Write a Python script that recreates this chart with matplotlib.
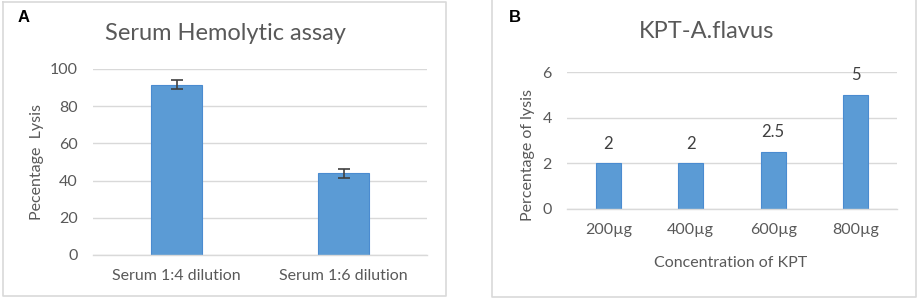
import matplotlib
matplotlib.use('Agg')
import matplotlib.pyplot as plt
from matplotlib.lines import Line2D

# panel A data
serum_labels = ['Serum 1:4 dilution', 'Serum 1:6 dilution']
serum_lysis = [91.5, 44]
serum_err = [2.5, 2.5]

# panel B data
kpt_labels = ['200µg', '400µg', '600µg', '800µg']
kpt_lysis = [2, 2, 2.5, 5]
kpt_text = ['2', '2', '2.5', '5']

W, H = 920, 301
blue = '#5B9BD5'
grid = '#D9D9D9'
txt = '#595959'

plt.rcParams['font.family'] = ['Lato', 'DejaVu Sans']

fig = plt.figure(figsize=(W / 100, H / 100), dpi=100)


def fx(px):
    return px / W


def fy(py):
    return 1 - py / H


def style(ax):
    for s in ['top', 'right', 'left']:
        ax.spines[s].set_visible(False)
    ax.spines['bottom'].set_color(grid)
    ax.spines['bottom'].set_linewidth(1)
    ax.yaxis.grid(True, color=grid, linewidth=1)
    ax.set_axisbelow(True)
    ax.tick_params(length=0, colors=txt, labelsize=11.5)


# panel frames
fig.add_artist(Line2D([fx(3), fx(446), fx(446), fx(3), fx(3)],
                      [fy(2), fy(2), fy(296), fy(296), fy(2)],
                      color='#D9D9D9', lw=1.2))
fig.add_artist(Line2D([fx(492), fx(492), fx(916), fx(916)],
                      [fy(-2), fy(297), fy(297), fy(-2)],
                      color='#D9D9D9', lw=1.2))

# ---- panel A ----
axA = fig.add_axes([fx(93), fy(255), fx(334), 186 / H])
style(axA)
xa = range(len(serum_labels))
axA.bar(xa, serum_lysis, width=0.31, color=blue, edgecolor='#4A8BD0', linewidth=0.8)
axA.errorbar(xa, serum_lysis, yerr=serum_err, fmt='none', ecolor='#404040',
             elinewidth=1.2, capsize=4, capthick=1.2, clip_on=False)
axA.set_xlim(-0.5, 1.5)
axA.set_ylim(0, 100)
axA.set_yticks([0, 20, 40, 60, 80, 100])
axA.set_xticks(list(xa))
axA.set_xticklabels(serum_labels)
axA.tick_params(axis='x', pad=10)
axA.tick_params(axis='y', pad=11)
fig.text(fx(225), fy(33), 'Serum Hemolytic assay', ha='center', va='center',
         fontsize=17, color=txt)
fig.text(fx(37), fy(162), 'Pecentage  Lysis', rotation=90, ha='center',
         va='center', fontsize=11.5, color=txt)
fig.text(fx(24), fy(17), 'A', ha='center', va='center', fontsize=12,
         fontweight='bold', family='Liberation Sans')

# ---- panel B ----
axB = fig.add_axes([fx(567), fy(209), fx(330), 137 / H])
style(axB)
xb = range(len(kpt_labels))
axB.bar(xb, kpt_lysis, width=0.3, color=blue, edgecolor='#4A8BD0', linewidth=0.8)
for i, v in enumerate(kpt_lysis):
    axB.annotate(kpt_text[i], (i, v), xytext=(0, 14), textcoords='offset points',
                 ha='center', va='center', fontsize=12, color='#404040')
axB.set_xlim(-0.5, 3.5)
axB.set_ylim(0, 6)
axB.set_yticks([0, 2, 4, 6])
axB.set_xticks(list(xb))
axB.set_xticklabels(kpt_labels)
axB.tick_params(axis='x', pad=10)
axB.tick_params(axis='y', pad=11)
fig.text(fx(707), fy(32), 'KPT-A.flavus', ha='center', va='center',
         fontsize=17, color=txt)
fig.text(fx(528), fy(155), 'Percentage of lysis', rotation=90, ha='center',
         va='center', fontsize=11.5, color=txt)
fig.text(fx(731), fy(263), 'Concentration of KPT', ha='center', va='center',
         fontsize=11.5, color=txt)
fig.text(fx(515), fy(17), 'B', ha='center', va='center', fontsize=12,
         fontweight='bold', family='Liberation Sans')

fig.savefig('out.png', dpi=100)
